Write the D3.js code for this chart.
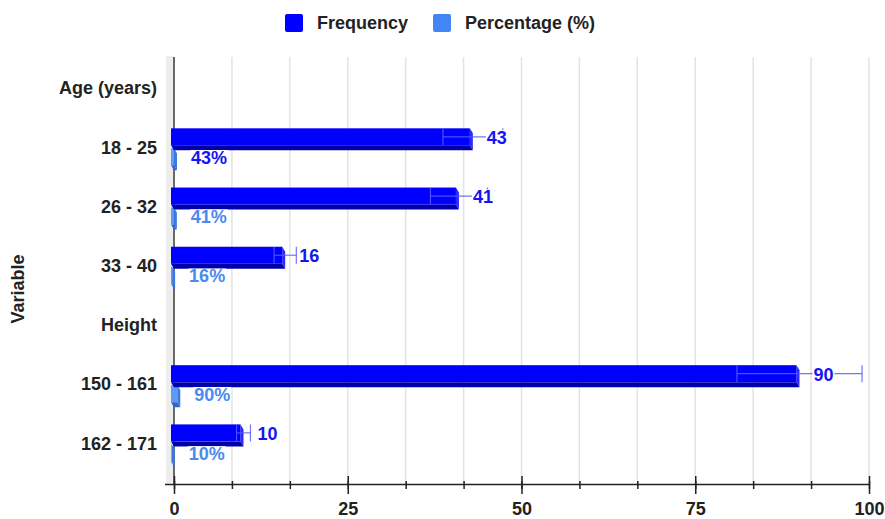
<!DOCTYPE html>
<html>
<head>
<meta charset="utf-8">
<script src="https://cdn.jsdelivr.net/npm/d3@7/dist/d3.min.js"></script>
<style>
  html, body { margin: 0; padding: 0; background: #fff; }
  svg { display: block; font-family: "Liberation Sans", Arial, sans-serif; }
</style>
</head>
<body>
<svg id="chart" width="885" height="519"></svg>
<script>
// Rows of the variable table (group headers have no values)
const categories = ["Age (years)", "18 - 25", "26 - 32", "33 - 40", "Height", "150 - 161", "162 - 171"];
const frequency = [null, 43, 41, 16, null, 90, 10];
const percentage = [null, 0.43, 0.41, 0.16, null, 0.90, 0.10];
const freqLow  = [null, 38.7, 36.9, 14.4, null, 81, 9];
const freqHigh = [null, 47.3, 45.1, 17.6, null, 99, 11];
const majorTicks = [0, 25, 50, 75, 100];
const seriesNames = ["Frequency", "Percentage (%)"];

const FREQ = { front: "#0000ff", bottom: "#0000a8", side: "#2a2aff", label: "#1414f5" };
const PCT  = { front: "#5d9cf6", bottom: "#2f66c8", side: "#3b78e2", label: "#4a8af0" };
const FONT = 18;

const svg = d3.select("#chart");
const x = d3.scaleLinear().domain([0, 100]).range([174, 869]);
const y = d3.scaleBand().domain(categories).range([58.5, 473]);
const cy = c => y(c) + y.bandwidth() / 2;

// depth offset of the 3D boxes
const DX = 3, DY = 5, FACE = 17;

// side wall
svg.append("polygon")
  .attr("points", "166,56 174,56 174,481 166,486")
  .attr("fill", "#ededed");

// gridlines every 1/12 of the range
const gridVals = d3.range(1, 13).map(i => i * 100 / 12);
svg.append("g").selectAll("line").data(gridVals).join("line")
  .attr("x1", d => x(d)).attr("x2", d => x(d))
  .attr("y1", 57).attr("y2", 484)
  .attr("stroke", "#e3e3e3").attr("stroke-width", 1.5);

// vertical base line
svg.append("line")
  .attr("x1", x(0)).attr("x2", x(0)).attr("y1", 57).attr("y2", 484)
  .attr("stroke", "#3a3a3a").attr("stroke-width", 1.5);

// bottom axis: minor ticks
const minorAxis = d3.axisBottom(x).tickValues(d3.range(0, 13).map(i => i * 100 / 12))
  .tickSize(0).tickFormat("");
const gMinor = svg.append("g").attr("transform", "translate(0,484.5)").call(minorAxis);
gMinor.select(".domain").remove();
gMinor.selectAll(".tick line").attr("y1", -3.5).attr("y2", 4.5)
  .attr("stroke", "#222").attr("stroke-width", 1.5);

// bottom axis: major ticks with labels
const majorAxis = d3.axisBottom(x).tickValues(majorTicks).tickSize(0).tickPadding(0)
  .tickFormat(d3.format("d"));
const gMajor = svg.append("g").attr("transform", "translate(0,484.5)").call(majorAxis);
gMajor.select(".domain").remove();
gMajor.selectAll(".tick line").attr("y1", -8.5).attr("y2", 9.5)
  .attr("stroke", "#222").attr("stroke-width", 1.5);
gMajor.selectAll(".tick text")
  .attr("y", 30.3).attr("dy", null)
  .attr("font-size", FONT).attr("font-weight", "bold").attr("fill", "#222")
  .attr("font-family", "Liberation Sans, Arial, sans-serif");

svg.append("line")
  .attr("x1", 165).attr("x2", 870).attr("y1", 484.5).attr("y2", 484.5)
  .attr("stroke", "#222").attr("stroke-width", 1.5);

// category labels
svg.append("g").selectAll("text").data(categories).join("text")
  .attr("x", 157).attr("y", d => cy(d)).attr("dy", "0.35em")
  .attr("text-anchor", "end")
  .attr("font-size", FONT).attr("font-weight", "bold").attr("fill", "#222")
  .text(d => d);

// axis title
svg.append("text")
  .attr("transform", "translate(18,289) rotate(-90)")
  .attr("dy", "0.35em").attr("text-anchor", "middle")
  .attr("font-size", FONT).attr("font-weight", "bold").attr("fill", "#222")
  .text("Variable");

// 3D bar: front face, bottom face, right side face
function bar3d(g, v, top, col) {
  const x0 = x(0) - DX, x1 = x(v) - DX, bot = top + FACE;
  g.append("polygon")
    .attr("points", `${x0},${bot} ${x1},${bot} ${x1 + DX},${bot + DY} ${x0 + DX},${bot + DY}`)
    .attr("fill", col.bottom);
  g.append("polygon")
    .attr("points", `${x1},${top} ${x1 + DX},${top + DY} ${x1 + DX},${bot + DY} ${x1},${bot}`)
    .attr("fill", col.side);
  g.append("rect")
    .attr("x", x0).attr("y", top).attr("width", Math.max(0, x1 - x0)).attr("height", FACE)
    .attr("fill", col.front);
}

const bars = svg.append("g");
const rows = categories.map((c, i) => ({ c, i })).filter(r => frequency[r.i] != null);

rows.forEach(r => {
  const c0 = cy(r.c);
  const g = bars.append("g");
  bar3d(g, percentage[r.i], c0 + 1, PCT);
  bar3d(g, frequency[r.i], c0 - 19, FREQ);

  // interval whiskers on the frequency bars
  const eb = g.append("g").attr("stroke", "rgba(90,90,255,0.85)").attr("stroke-width", 1.2);
  const lo = x(freqLow[r.i]), hi = x(freqHigh[r.i]);
  eb.append("line").attr("x1", lo).attr("x2", hi).attr("y1", c0 - 10.5).attr("y2", c0 - 10.5);
  eb.append("line").attr("x1", lo).attr("x2", lo).attr("y1", c0 - 19).attr("y2", c0 - 2);
  eb.append("line").attr("x1", hi).attr("x2", hi).attr("y1", c0 - 19).attr("y2", c0 - 2);
});

// value annotations with a white backing
const fmtPct = d3.format(".0%");
function annotate(xPos, yMid, txt, color) {
  const g = svg.append("g");
  const bg = g.append("rect").attr("fill", "#fff");
  const t = g.append("text")
    .attr("x", xPos).attr("y", yMid).attr("dy", "0.36em")
    .attr("font-size", FONT).attr("font-weight", "bold").attr("fill", color)
    .text(txt);
  const bb = t.node().getBBox();
  const base = yMid + 0.36 * FONT;
  bg.attr("x", bb.x - 1).attr("width", bb.width + 2)
    .attr("y", base - 0.76 * FONT).attr("height", 0.76 * FONT + 2);
}

rows.forEach(r => {
  const c0 = cy(r.c);
  annotate(x(frequency[r.i]) + 14, c0 - 10, String(frequency[r.i]), FREQ.label);
  annotate(x(percentage[r.i]) + 14, c0 + 10, fmtPct(percentage[r.i]), r.i === 1 ? FREQ.label : PCT.label);
});

// legend
const legendItems = [
  { name: seriesNames[0], color: "#0000ff", x: 285 },
  { name: seriesNames[1], color: "#4285f4", x: 433 }
];
const lg = svg.append("g").selectAll("g").data(legendItems).join("g")
  .attr("transform", d => `translate(${d.x},14)`);
lg.append("rect").attr("width", 18).attr("height", 18).attr("rx", 2).attr("fill", d => d.color);
lg.append("text").attr("x", 32).attr("y", 9).attr("dy", "0.35em")
  .attr("font-size", FONT).attr("font-weight", "bold").attr("fill", "#222")
  .text(d => d.name);
</script>
</body>
</html>
